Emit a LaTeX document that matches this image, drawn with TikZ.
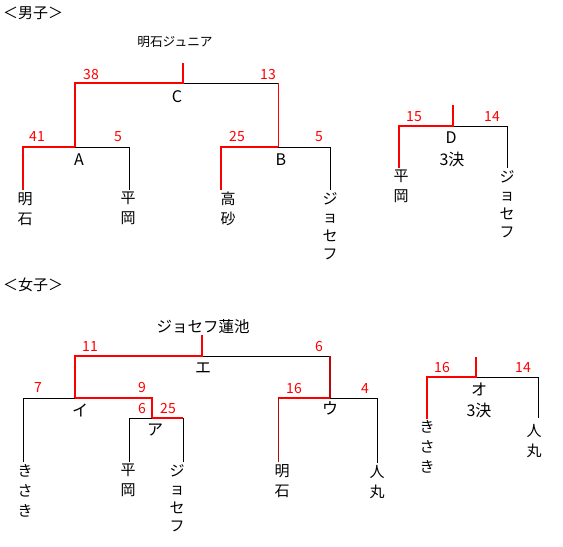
\documentclass[tikz,border=0pt]{standalone}
\usepackage{fontspec}
\setmainfont{Noto Sans CJK JP}
\definecolor{winDark}{RGB}{180,10,10}
\begin{document}
\begin{tikzpicture}[x=1bp, y=-1bp,
  lose/.style={draw=black, line width=0.8bp},
  win/.style={draw=red, line width=2.2bp},
  winthin/.style={draw=red, line width=0.9bp},
  windark/.style={draw=winDark, line width=1.6bp},
  team/.style={anchor=north, align=center, inner sep=2bp, font=\fontsize{15bp}{20bp}\selectfont},
  kata/.style={font=\fontsize{15bp}{18.5bp}\selectfont},
  score/.style={text=red, inner sep=0pt, font=\fontsize{14bp}{14bp}\selectfont},
  match/.style={inner sep=0pt, font=\fontsize{16bp}{16bp}\selectfont},
  head/.style={anchor=west, inner sep=0pt, font=\fontsize{15bp}{15bp}\selectfont}]
% Page frame
\useasboundingbox (0,0) rectangle (563,547);

% ---------------- Men ----------------
\node[head] (mHead) at (3,13) {＜男子＞};
\node[inner sep=0pt, font=\fontsize{12.7bp}{13bp}\selectfont] (mChamp) at (175,42) {明石ジュニア};
% Bracket corners
\coordinate (mTop) at (183,63);
\coordinate (mC) at (183,83);
\coordinate (mCL) at (75,83);
\coordinate (mCR) at (278,83);
\coordinate (mA) at (75,147);
\coordinate (mAL) at (23,147);
\coordinate (mAR) at (129,147);
\coordinate (mB) at (278,147);
\coordinate (mBL) at (221,147);
\coordinate (mBR) at (330,147);
% Teams
\node[team] (mAkashi) at (25,190) {明\\石};
\node[team] (mHiraoka) at (128,190) {平\\岡};
\node[team] (mTakasago) at (228,190) {高\\砂};
\node[team, kata] (mJoseph) at (330,190) {ジ\\ョ\\セ\\フ};
% Losing lines
\draw[lose] (mAR |- mHiraoka.north) -- (mAR) -- (mA);
\draw[lose] (mBR |- mJoseph.north) -- (mBR) -- (mB);
\draw[lose] (mC) -- (mCR);
% Winning lines
\draw[win] (mAL |- mAkashi.north) -- (mAL) -- (mA);
\draw[win] (mBL |- mTakasago.north) -- (mBL) -- (mB);
\draw[win] (mA) -- (mCL) -- (mC) -- (mTop);
\draw[winthin] (mCR) -- (mB);
% Scores and match names
\node[score] (sA1) at (37,137) {41};
\node[score] (sA2) at (118,137) {5};
\node[score] (sB1) at (237,137) {25};
\node[score] (sB2) at (319,137) {5};
\node[score] (sC1) at (91,75) {38};
\node[score] (sC2) at (268,75) {13};
\node[match] (mAname) at (79,160) {A};
\node[match] (mBname) at (281,160) {B};
\node[match] (mCname) at (177,97) {C};

% Third place (men)
\coordinate (dTop) at (453,105);
\coordinate (dM) at (453,126);
\coordinate (dL) at (399,126);
\coordinate (dR) at (507,126);
\node[team] (dHiraoka) at (401,168) {平\\岡};
\node[team, kata] (dJoseph) at (507,168) {ジ\\ョ\\セ\\フ};
\draw[lose] (dR |- dJoseph.north) -- (dR) -- (dM);
\draw[win] (dL |- dHiraoka.north) -- (dL) -- (dM) -- (dTop);
\node[score] (sD1) at (414,117) {15};
\node[score] (sD2) at (492,117) {14};
\node[match] (dName) at (451,138) {D};
\node[match] (dNote) at (452,159) {3決};

% ---------------- Women ----------------
\node[head] (wHead) at (3,285) {＜女子＞};
\node[inner sep=0pt, font=\fontsize{15.5bp}{16bp}\selectfont] (wChamp) at (203,327) {ジョセフ蓮池};
% Bracket corners
\coordinate (wTop) at (202,335);
\coordinate (wE) at (202,356);
\coordinate (wEL) at (75,356);
\coordinate (wER) at (330,356);
\coordinate (wI) at (75,398);
\coordinate (wIL) at (23,398);
\coordinate (wIR) at (152,398);
\coordinate (wA) at (152,418);
\coordinate (wAL) at (129,418);
\coordinate (wAR) at (183,418);
\coordinate (wU) at (330,398);
\coordinate (wUL) at (278,398);
\coordinate (wUR) at (377,398);
% Teams
\node[team] (wKisaki) at (25,462) {き\\さ\\き};
\node[team] (wHiraoka) at (128,462) {平\\岡};
\node[team, kata] (wJoseph) at (177,462) {ジ\\ョ\\セ\\フ};
\node[team] (wAkashi) at (282,462) {明\\石};
\node[team] (wHitomaru) at (377,463) {人\\丸};
% Losing lines
\draw[lose] (wIL |- wKisaki.north) -- (wIL) -- (wI);
\draw[lose] (wAL |- wHiraoka.north) -- (wAL) -- (wA);
\draw[lose] (wAR |- wJoseph.north) -- (wAR);
\draw[lose] (wUR |- wHitomaru.north) -- (wUR) -- (wU);
\draw[lose] (wE) -- (wER);
% Winning lines
\draw[win] (wA) -- (wAR);
\draw[win] (wA) -- (wIR) -- (wI);
\draw[win] (wI) -- (wEL) -- (wE) -- (wTop);
\draw[win] (wUL) -- (wU);
\draw[draw=winDark, line width=0.9bp] (wUL |- wAkashi.north) -- (wUL);
\draw[windark] (wER) -- (wU);
% Scores and match names
\node[score] (sI1) at (38,388) {7};
\node[score] (sI2) at (142,388) {9};
\node[score] (sA3) at (142,409) {6};
\node[score] (sA4) at (168,409) {25};
\node[score] (sE1) at (90,347) {11};
\node[score] (sE2) at (319,347) {6};
\node[score] (sU1) at (294,389) {16};
\node[score] (sU2) at (365,389) {4};
\node[match] (wEname) at (203,368) {エ};
\node[match] (wIname) at (80,410) {イ};
\node[match] (wAname) at (155,430) {ア};
\node[match] (wUname) at (330,408) {ウ};

% Third place (women)
\coordinate (oTop) at (476,357);
\coordinate (oM) at (476,377);
\coordinate (oL) at (427,377);
\coordinate (oR) at (538,377);
\node[team] (oKisaki) at (427,418.5) {き\\さ\\き};
\node[team, inner sep=6bp] (oHitomaru) at (534,418) {人\\丸};
\draw[lose] (oR |- oHitomaru.north) -- (oR) -- (oM);
\draw[win] (oL |- oKisaki.north) -- (oL) -- (oM) -- (oTop);
\node[score] (sO1) at (442,368) {16};
\node[score] (sO2) at (523,368) {14};
\node[match] (oName) at (479,389) {オ};
\node[match] (oNote) at (479,410) {3決};
\end{tikzpicture}
\end{document}
